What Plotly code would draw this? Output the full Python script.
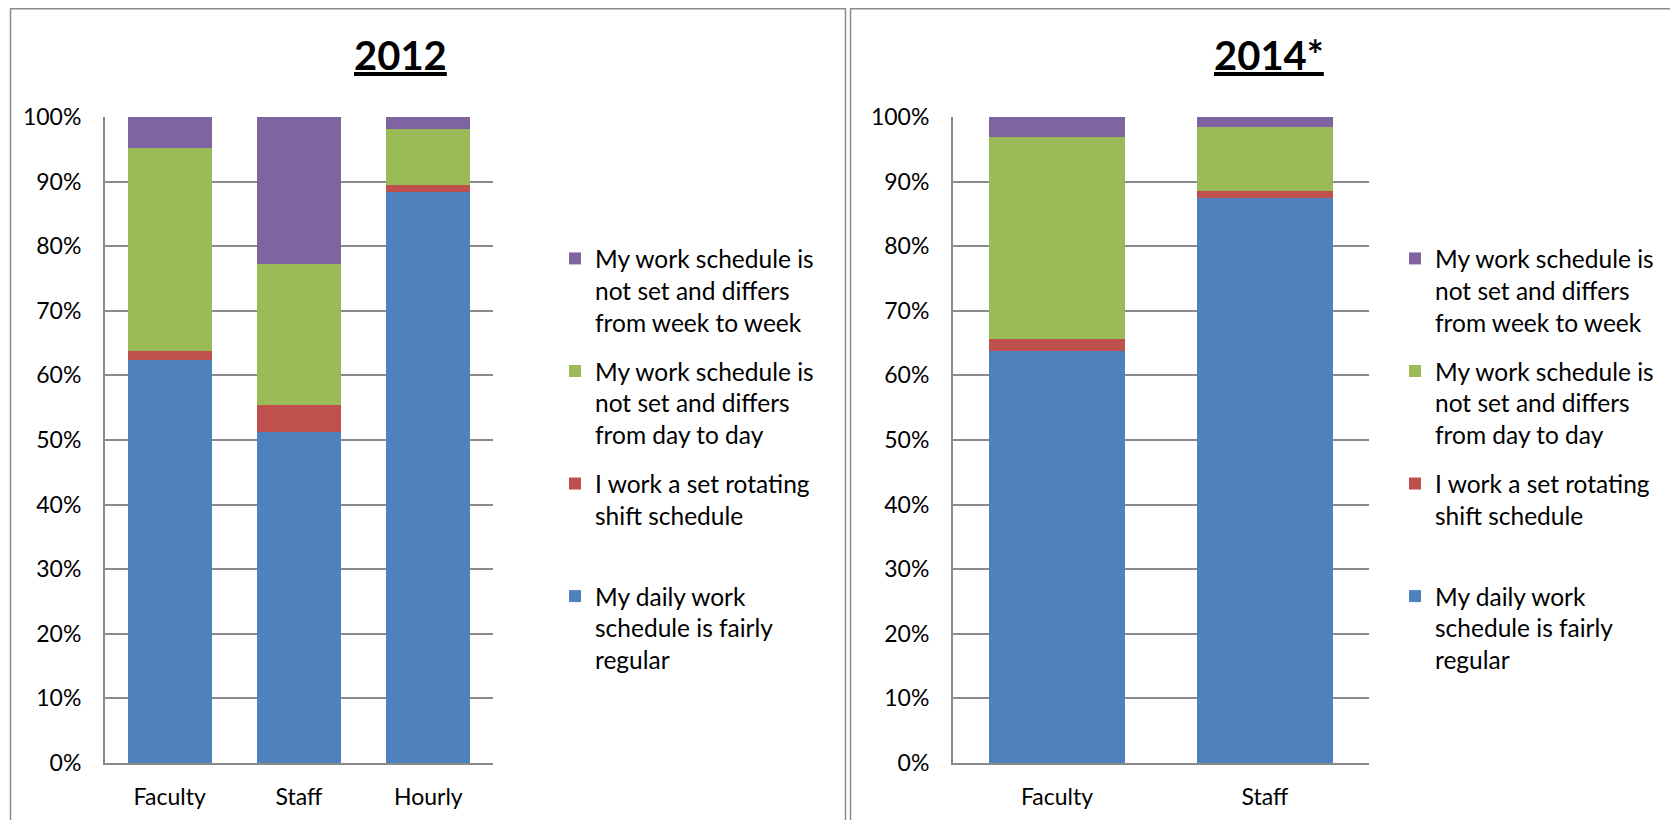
import plotly.graph_objects as go

# 2012 panel
groups_2012 = ["Faculty", "Staff", "Hourly"]
regular_2012 = [0.624, 0.512, 0.884]
rotating_2012 = [0.014, 0.042, 0.011]
day_2012 = [0.314, 0.218, 0.086]
week_2012 = [0.048, 0.228, 0.019]

# 2014 panel
groups_2014 = ["Faculty", "Staff"]
regular_2014 = [0.638, 0.874]
rotating_2014 = [0.018, 0.012]
day_2014 = [0.313, 0.099]
week_2014 = [0.031, 0.015]

series_names = [
    "My daily work<br>schedule is fairly<br>regular",
    "I work a set rotating<br>shift schedule<br> ",
    "My work schedule is<br>not set and differs<br>from day to day",
    "My work schedule is<br>not set and differs<br>from week to week",
]
colors = ["#4F81BD", "#C0504D", "#9BBB59", "#8064A2"]

FONT = "Lato, Calibri, sans-serif"
GRID = "#8a8a8a"
# page body keeps an 8px margin, so the figure is sized to fit inside it
OFF = 8
W, H = 1678 - 2 * OFF, 828 - 2 * OFF

fig = go.Figure()

panels = [
    (groups_2012, [regular_2012, rotating_2012, day_2012, week_2012], "x", "y", "legend"),
    (groups_2014, [regular_2014, rotating_2014, day_2014, week_2014], "x2", "y2", "legend2"),
]
for cats, vals, xa, ya, leg in panels:
    for i, (name, v, c) in enumerate(zip(series_names, vals, colors)):
        fig.add_trace(go.Bar(
            x=cats, y=v, name=name, marker_color=c, marker_line_width=0,
            xaxis=xa, yaxis=ya, legend=leg, legendgroup=f"{leg}{i}",
            legendrank=10 - i, hoverinfo="skip",
        ))

# screen pixel -> paper fraction
def px2x(p):
    return (p - OFF) / W

def px2y(p):
    return 1 - (p - OFF) / H

axis_common = dict(showline=True, linecolor=GRID, linewidth=2,
                   tickfont=dict(family=FONT, size=23, color="#000"))
yaxis_common = dict(axis_common, range=[0, 1], dtick=0.1, tickformat=".0%",
                    showgrid=True, gridcolor=GRID, gridwidth=2,
                    ticklabelstandoff=17, zeroline=False,
                    domain=[px2y(763), px2y(117)])

legend_common = dict(font=dict(family=FONT, size=24.5, color="#000"),
                     traceorder="grouped", tracegroupgap=14,
                     valign="top", bgcolor="rgba(0,0,0,0)",
                     xanchor="left", yanchor="top", itemclick=False)

fig.update_layout(
    width=W, height=H,
    margin=dict(l=0, r=0, t=0, b=0, autoexpand=False),
    paper_bgcolor="white", plot_bgcolor="white",
    barmode="stack", bargap=0.35,
    font=dict(family=FONT, color="#000"),
    xaxis=dict(axis_common, domain=[px2x(105), px2x(493)], ticklabelstandoff=12),
    yaxis=yaxis_common,
    xaxis2=dict(axis_common, domain=[px2x(953), px2x(1369)], anchor="y2",
                ticklabelstandoff=12),
    yaxis2=dict(yaxis_common, anchor="x2"),
    legend=dict(legend_common, x=px2x(555), y=px2y(236)),
    legend2=dict(legend_common, x=px2x(1395), y=px2y(236)),
    showlegend=True,
)

# panel frames
fig.add_shape(type="rect", xref="paper", yref="paper",
              x0=px2x(10.5), x1=px2x(845.5), y0=px2y(840), y1=px2y(8.8),
              line=dict(color=GRID, width=1.5), layer="below")
fig.add_shape(type="rect", xref="paper", yref="paper",
              x0=px2x(850.5), x1=px2x(1700), y0=px2y(840), y1=px2y(8.8),
              line=dict(color=GRID, width=1.5), layer="below")

# panel titles
for txt, cx in [("2012", 400), ("2014*", 1269)]:
    fig.add_annotation(text=f"<b><u>{txt}</u></b>", xref="paper", yref="paper",
                       x=px2x(cx), y=px2y(55), showarrow=False,
                       xanchor="center", yanchor="middle",
                       font=dict(family=FONT, size=40, color="#000"))

fig.write_html("out.html")
